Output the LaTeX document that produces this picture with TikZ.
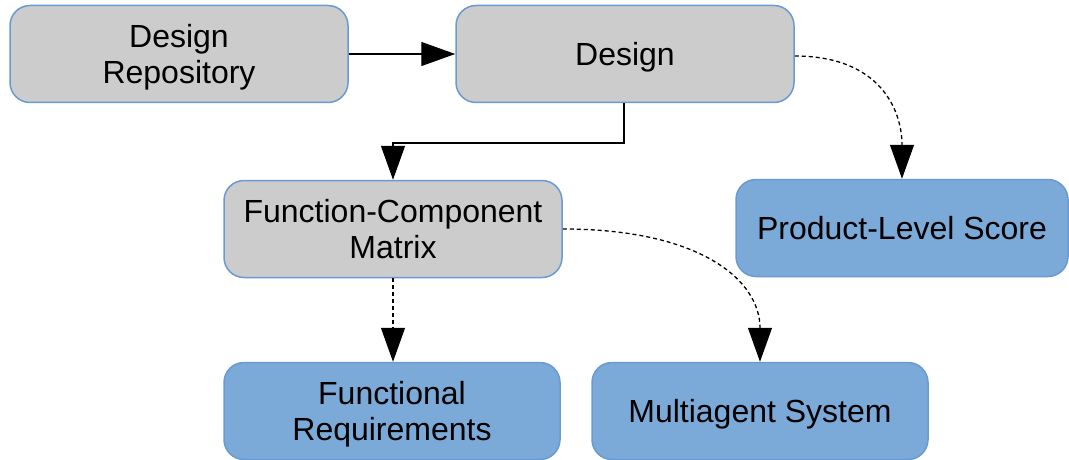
\documentclass[tikz,border=0pt]{standalone}
\usepackage{fontspec}
\setmainfont{Liberation Sans}
\usetikzlibrary{arrows.meta}
\definecolor{boxgray}{HTML}{CCCCCC}
\definecolor{boxblue}{HTML}{7BAAD8}
\definecolor{edgeblue}{HTML}{6A9AD3}
\tikzset{
  card/.style={draw=edgeblue, line width=1.5pt, rounded corners=20pt,
    minimum width=338pt, minimum height=97pt, align=center,
    font=\fontsize{32}{36}\selectfont, inner sep=0pt, text depth=0pt},
  graycard/.style={card, fill=boxgray},
  bluecard/.style={card, fill=boxblue},
  link/.style={line width=1.3pt, -{Triangle[length=34pt,width=24pt]}},
  dotlink/.style={link, dash pattern=on 4pt off 3pt}
}
\begin{document}
\begin{tikzpicture}[x=1pt,y=-1pt]
\useasboundingbox (0,0) rectangle (1069,460);
\node[graycard] (repo) at (179,54) {Design\\Repository};
\node[graycard] (design) at (625,54) {Design};
\node[graycard] (fcm) at (393,229) {Function-Component\\Matrix};
\node[bluecard, minimum width=332pt] (score) at (902,228) {Product-Level Score};
\node[bluecard, minimum width=336pt] (freq) at (392,411) {Functional\\Requirements};
\node[bluecard, minimum width=336pt] (mas) at (760,411) {Multiagent System};

\draw[link] (repo.east) -- (design.west);
\draw[link] (design.south -| 624,0) -- (624,143) -| (fcm.north);
\draw[dotlink] (design.east |- 0,56) .. controls (880,56) and (902,110) .. (score.north);
\draw[dotlink] (fcm.south) -- (freq.north -| fcm.south);
\draw[dotlink] (fcm.east) .. controls (700,229) and (760,280) .. (mas.north);
\end{tikzpicture}
\end{document}
